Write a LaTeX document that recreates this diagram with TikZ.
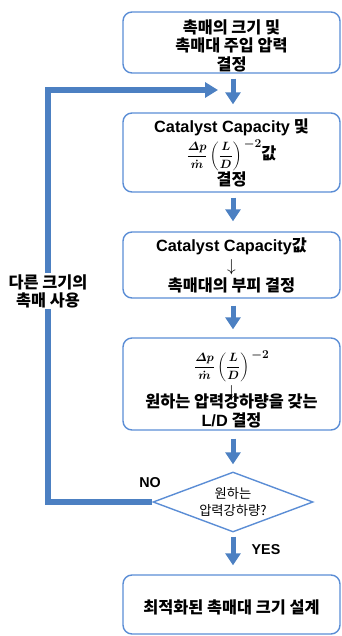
\documentclass[tikz,border=0pt]{standalone}
\usepackage[no-math]{fontspec}
\usepackage{amsmath}
\setmainfont{Noto Sans CJK KR}
\newfontfamily\lat{Liberation Sans}
\usetikzlibrary{shapes.geometric,arrows.meta}
\definecolor{bbox}{RGB}{91,141,213}
\definecolor{barrow}{RGB}{76,128,194}
\newcommand\dpexpr{{\fontsize{12}{14}\selectfont\boldmath$\displaystyle\frac{\varDelta p}{\dot m}\left(\frac{L}{D}\right)\raisebox{12pt}{$\textstyle -2$}$}}
\tikzset{
  box/.style={draw=bbox, line width=1.4pt, rounded corners=9pt, minimum width=217pt,
    inner sep=0pt, align=center, font=\fontsize{16.3}{19}\selectfont\bfseries},
  flow/.style={draw=barrow, line width=5pt, -{Triangle[width=15pt,length=12pt]}},
  fback/.style={draw=barrow, line width=5.5pt, line join=miter, -{Triangle[width=15pt,length=13pt]}},
  lbl/.style={font=\lat\fontsize{14.3}{16}\selectfont\bfseries, inner sep=1pt},
}
\begin{document}
\begin{tikzpicture}[x=1pt,y=-1pt]
\useasboundingbox (0,0) rectangle (341,636);
\node[box, minimum height=61pt] (b1) at (231.5,42.5) {\rule{0pt}{20pt}촉매의 크기 및\\[-0.5pt]촉매대 주입 압력\\[-0.5pt]결정};
\node[box, minimum height=79pt] (b2) at (231.5,152.5) {{\lat Catalyst Capacity} 및\\[3pt]\smash{\raisebox{-5pt}{\dpexpr 값}}\\[12pt]결정};
\node[box, minimum height=66pt] (b3) at (231.5,265) {{\lat Catalyst Capacity}값\\[1pt]\smash{$\downarrow$}\\[1pt]촉매대의 부피 결정};
\node[box, minimum height=92pt] (b4) at (231.5,384) {\rule{0pt}{25pt}\smash{\raisebox{-5.5pt}{\dpexpr}}\\[6pt]\smash{\raisebox{-8pt}{$\downarrow$}}\\[-1pt]원하는 압력강하량을 갖는\\[0pt]{\lat L/D} 결정};
\node[draw=bbox, line width=1.4pt, diamond, aspect=2.67, minimum width=160pt, minimum height=60pt,
  inner sep=0pt, align=center, font=\fontsize{13.3}{17}\selectfont] (dia) at (233,502) {원하는\\압력강하량?};
\node[box, minimum height=59pt] (b5) at (231.5,604.5) {\rule{0pt}{20pt}최적화된 촉매대 크기 설계};

\draw[flow, shorten <=5pt, shorten >=8pt] ([xshift=1.5pt]b1.south) -- ([xshift=1.5pt]b2.north);
\draw[flow, shorten <=5pt, shorten >=10pt] ([xshift=1.5pt]b2.south) -- ([xshift=1.5pt]b3.north);
\draw[flow, shorten <=7pt, shorten >=8pt] ([xshift=1.5pt]b3.south) -- ([xshift=1.5pt]b4.north);
\draw[flow, shorten <=8pt, shorten >=7pt] ([xshift=1.5pt]b4.south) -- (dia.north);
\draw[flow, shorten <=4pt, shorten >=9pt] (dia.south) -- ([xshift=1.5pt]b5.north);

\coordinate (fbc) at (48,90);
\coordinate (fbend) at (218,90);
\draw[fback] (dia.west) -| (fbc) -- (fbend);
\node[fill=white, align=center, inner sep=1pt, font=\fontsize{16.3}{18}\selectfont\bfseries] (lab) at (48,291) {다른 크기의\\촉매 사용};
\node[lbl] (no) at (150,483) {NO};
\node[lbl] (yes) at (266,550) {YES};
\end{tikzpicture}
\end{document}
